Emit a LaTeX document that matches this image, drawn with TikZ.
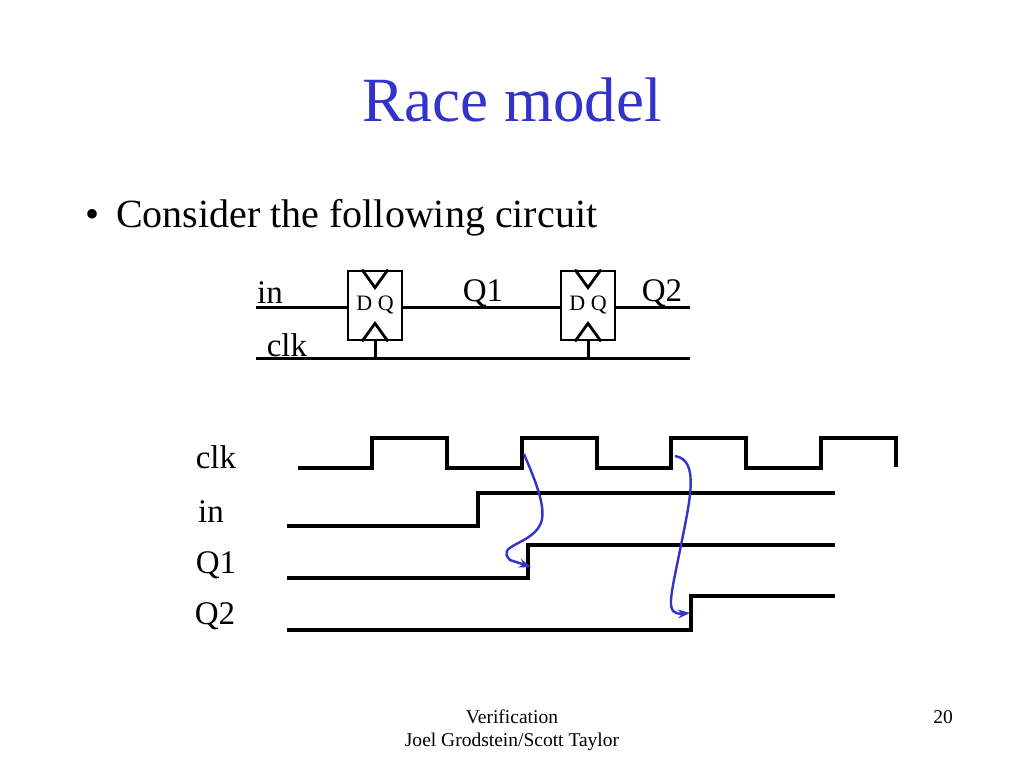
\documentclass[tikz,border=0pt]{standalone}
\usepackage{fontspec}
\setmainfont{Liberation Serif}
\usetikzlibrary{arrows.meta}
\definecolor{tblue}{RGB}{51,51,204}
\begin{document}
\begin{tikzpicture}[x=1pt,y=-1pt,
  wire/.style={line width=3pt},
  sig/.style={line width=3.4pt},
  ff/.style={draw,line width=2.8pt,minimum width=54pt,minimum height=69pt,inner sep=0pt},
  race/.style={tblue,line width=2.4pt,-{Stealth[length=12pt,width=9pt]}},
  lbl/.style={inner sep=0pt,font=\fontsize{33}{33}\selectfont}]
\useasboundingbox (0,0) rectangle (1024,768);
\node[text=tblue,font=\fontsize{63}{63}\selectfont] (title) at (512,100) {Race model};
\node[anchor=west,font=\fontsize{40}{40}\selectfont] (bul) at (82,218) {\textbullet\ \,Consider the following circuit};
% flip-flops
\node[ff] (f1) at (375,305.5) {};
\node[ff] (f2) at (588,305.5) {};
\foreach \f in {f1,f2}{
  \draw[line width=2.8pt] ([xshift=-13pt]\f.north) -- ([yshift=-18pt]\f.north) -- ([xshift=13pt]\f.north);
  \draw[line width=2.8pt] ([xshift=-13pt]\f.south) -- ([yshift=18pt]\f.south) -- ([xshift=13pt]\f.south);
  \node[font=\fontsize{22}{22}\selectfont,inner sep=0pt] at ([yshift=1pt]\f.center) {D Q};
}
\coordinate (inL) at (256,307);
\coordinate (q2R) at (690,307);
\coordinate (ckL) at (256,358);
\coordinate (ckR) at (690,358);
\draw[wire] (inL) -- (inL -| f1.west);
\draw[wire] (f1.east |- inL) -- (f2.west |- inL);
\draw[wire] (f2.east |- inL) -- (q2R);
\draw[wire] (ckL) -- (ckR);
\draw[wire] (f1.south) -- (f1.south |- ckL);
\draw[wire] (f2.south) -- (f2.south |- ckL);
\node[lbl] (tin) at (270,293) {in};
\node[lbl] (tclk) at (287,345) {clk};
\node[lbl] (tq1) at (483,293) {Q1};
\node[lbl] (tq2) at (662,293) {Q2};
% timing
\node[lbl] (lc) at (216,457) {clk};
\node[lbl] (li) at (211,512) {in};
\node[lbl] (l1) at (216,565) {Q1};
\node[lbl] (l2) at (215,616) {Q2};
\draw[sig] (298,468) -- (372,468) -- (372,438) -- (447,438) -- (447,468) -- (522,468) -- (522,438) -- (597,438) -- (597,468) -- (671,468) -- (671,438) -- (746,438) -- (746,468) -- (821,468) -- (821,438) -- (896,438) -- (896,467);
\draw[sig] (287,526) -- (478,526) -- (478,493) -- (835,493);
\draw[sig] (287,578) -- (528,578) -- (528,545) -- (835,545);
\draw[sig] (287,630) -- (691,630) -- (691,596) -- (835,596);
\coordinate (a1s) at (524,454);
\coordinate (a1e) at (531,567);
\coordinate (a2s) at (675,456);
\coordinate (a2e) at (690,613);
\draw[race] (a1s) .. controls (535,480) and (548,510) .. (540,525) .. controls (530,545) and (495,545) .. (510,560) -- (a1e);
\draw[race] (a2s) .. controls (700,460) and (690,500) .. (680,550) .. controls (670,600) and (665,615) .. (a2e);
% footer
\node[font=\fontsize{19.5}{19.5}\selectfont] (f1t) at (512,717) {Verification};
\node[font=\fontsize{19.5}{19.5}\selectfont] (f2t) at (512,742) {Joel Grodstein/Scott Taylor};
\node[font=\fontsize{19.5}{19.5}\selectfont] (pg) at (943,717) {20};
\end{tikzpicture}
\end{document}
